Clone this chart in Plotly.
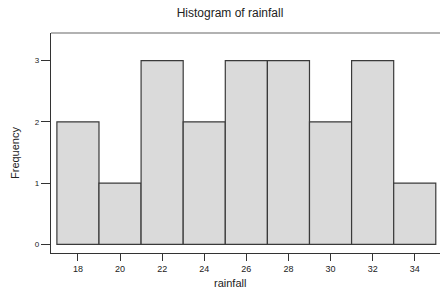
import plotly.graph_objects as go

bin_centers = [18, 20, 22, 24, 26, 28, 30, 32, 34]
counts = [2, 1, 3, 2, 3, 3, 2, 3, 1]
bin_width = 2
x_ticks = [18, 20, 22, 24, 26, 28, 30, 32, 34]
y_ticks = [0, 1, 2, 3]

FONT = "Liberation Sans, Arial, Helvetica, sans-serif"
W, H = 440, 291
L, R, T, B = 51, 0, 33, 38

fig = go.Figure(go.Bar(
    x=bin_centers, y=counts, width=[bin_width] * len(counts),
    marker=dict(color="#dadada", line=dict(color="#3a3a3a", width=1.2)),
    hoverinfo="skip",
))

fig.update_layout(
    width=W, height=H,
    margin=dict(l=L, r=R, t=T, b=B, autoexpand=False),
    paper_bgcolor="white", plot_bgcolor="white",
    showlegend=False,
    font=dict(family=FONT, color="#222"),
    title=dict(text="Histogram of rainfall", x=230 / W, xanchor="center",
               xref="container", yref="container",
               y=1 - 13 / H, yanchor="middle",
               font=dict(size=12, family=FONT, color="#222")),
)
fig.update_xaxes(
    range=[16.72, 35.2], tickvals=x_ticks, ticks="outside", ticklen=7,
    tickcolor="#333", tickfont=dict(size=9, family=FONT),
    showline=True, linecolor="#333", linewidth=1.2, mirror=False,
    showgrid=False, zeroline=False, automargin=False,
)
fig.update_yaxes(
    range=[-0.14, 3.45], tickvals=y_ticks, ticks="outside", ticklen=9,
    tickcolor="#333", tickfont=dict(size=8, family=FONT),
    showline=True, linecolor="#333", linewidth=1.2,
    showgrid=False, zeroline=False, automargin=False,
)
# axis titles
fig.add_annotation(text="rainfall", xref="paper", yref="paper",
                   x=(230 - L) / (W - L - R), y=-(283 - (H - B)) / (H - T - B),
                   xanchor="center", yanchor="middle", showarrow=False,
                   font=dict(size=11, family=FONT, color="#222"))
fig.add_annotation(text="Frequency", xref="paper", yref="paper",
                   x=-(L - 15) / (W - L - R), y=(H - B - 153) / (H - T - B),
                   xanchor="center", yanchor="middle", showarrow=False, textangle=-90,
                   font=dict(size=11, family=FONT, color="#222"))
# top frame line
fig.add_shape(type="line", xref="paper", yref="paper", x0=0, x1=1, y0=1, y1=1,
              line=dict(color="#666", width=1.2))

fig.write_html("out.html",
               config={"displayModeBar": False, "staticPlot": True},
               post_script="document.body.style.margin='0';document.body.style.overflow='hidden';")
